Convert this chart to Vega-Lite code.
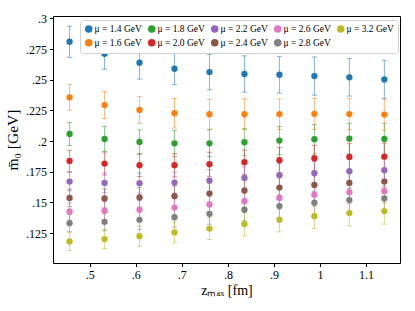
{
  "$schema": "https://vega.github.io/schema/vega-lite/v6.json",
  "width": 347,
  "height": 247,
  "autosize": {"type": "none"},
  "padding": {"left": 53, "top": 16, "right": 15, "bottom": 48},
  "background": "white",
  "config": {
    "view": {"stroke": "black", "strokeWidth": 1},
    "font": "Liberation Serif",
    "axis": {"grid": false, "domain": false, "tickColor": "black", "tickSize": 3.5, "labelColor": "black", "labelFont": "Liberation Serif", "labelFontSize": 12, "titleFont": "Liberation Serif", "titleFontSize": 14, "titleFontWeight": "normal", "titleColor": "black", "labelPadding": 3, "labelOverlap": false, "labelBound": false, "labelFlush": false}
  },
  "data": {"values": [
    {"mu":"1.4","z":0.456,"m":0.281,"e":0.0127},{"mu":"1.4","z":0.532,"m":0.2712,"e":0.0126},{"mu":"1.4","z":0.608,"m":0.2639,"e":0.0133},{"mu":"1.4","z":0.684,"m":0.259,"e":0.013},{"mu":"1.4","z":0.76,"m":0.2563,"e":0.0144},{"mu":"1.4","z":0.836,"m":0.2547,"e":0.0148},{"mu":"1.4","z":0.912,"m":0.2541,"e":0.015},{"mu":"1.4","z":0.988,"m":0.253,"e":0.0156},{"mu":"1.4","z":1.064,"m":0.252,"e":0.0153},{"mu":"1.4","z":1.14,"m":0.2503,"e":0.0156},
    {"mu":"1.6","z":0.456,"m":0.2357,"e":0.0104},{"mu":"1.6","z":0.532,"m":0.2294,"e":0.011},{"mu":"1.6","z":0.608,"m":0.2254,"e":0.0108},{"mu":"1.6","z":0.684,"m":0.2227,"e":0.012},{"mu":"1.6","z":0.76,"m":0.2219,"e":0.0122},{"mu":"1.6","z":0.836,"m":0.2219,"e":0.0125},{"mu":"1.6","z":0.912,"m":0.222,"e":0.0125},{"mu":"1.6","z":0.988,"m":0.2222,"e":0.0126},{"mu":"1.6","z":1.064,"m":0.222,"e":0.0126},{"mu":"1.6","z":1.14,"m":0.2216,"e":0.0127},
    {"mu":"1.8","z":0.456,"m":0.2058,"e":0.0094},{"mu":"1.8","z":0.532,"m":0.2018,"e":0.0102},{"mu":"1.8","z":0.608,"m":0.1993,"e":0.0099},{"mu":"1.8","z":0.684,"m":0.1982,"e":0.0106},{"mu":"1.8","z":0.76,"m":0.1982,"e":0.011},{"mu":"1.8","z":0.836,"m":0.1991,"e":0.011},{"mu":"1.8","z":0.912,"m":0.2004,"e":0.0115},{"mu":"1.8","z":0.988,"m":0.2015,"e":0.012},{"mu":"1.8","z":1.064,"m":0.202,"e":0.0125},{"mu":"1.8","z":1.14,"m":0.2017,"e":0.0128},
    {"mu":"2.0","z":0.456,"m":0.1838,"e":0.0088},{"mu":"2.0","z":0.532,"m":0.1817,"e":0.0093},{"mu":"2.0","z":0.608,"m":0.1803,"e":0.0092},{"mu":"2.0","z":0.684,"m":0.1803,"e":0.0095},{"mu":"2.0","z":0.76,"m":0.1811,"e":0.0098},{"mu":"2.0","z":0.836,"m":0.1828,"e":0.01},{"mu":"2.0","z":0.912,"m":0.1844,"e":0.0103},{"mu":"2.0","z":0.988,"m":0.186,"e":0.0106},{"mu":"2.0","z":1.064,"m":0.1871,"e":0.0108},{"mu":"2.0","z":1.14,"m":0.1873,"e":0.011},
    {"mu":"2.2","z":0.456,"m":0.167,"e":0.0075},{"mu":"2.2","z":0.532,"m":0.1659,"e":0.008},{"mu":"2.2","z":0.608,"m":0.1657,"e":0.0082},{"mu":"2.2","z":0.684,"m":0.1662,"e":0.0085},{"mu":"2.2","z":0.76,"m":0.1678,"e":0.0088},{"mu":"2.2","z":0.836,"m":0.17,"e":0.009},{"mu":"2.2","z":0.912,"m":0.1722,"e":0.0093},{"mu":"2.2","z":0.988,"m":0.1738,"e":0.0095},{"mu":"2.2","z":1.064,"m":0.1755,"e":0.0097},{"mu":"2.2","z":1.14,"m":0.1763,"e":0.0098},
    {"mu":"2.4","z":0.456,"m":0.1537,"e":0.0072},{"mu":"2.4","z":0.532,"m":0.1532,"e":0.0077},{"mu":"2.4","z":0.608,"m":0.154,"e":0.008},{"mu":"2.4","z":0.684,"m":0.1551,"e":0.0083},{"mu":"2.4","z":0.76,"m":0.1572,"e":0.0086},{"mu":"2.4","z":0.836,"m":0.1597,"e":0.0089},{"mu":"2.4","z":0.912,"m":0.1621,"e":0.0092},{"mu":"2.4","z":0.988,"m":0.1643,"e":0.0094},{"mu":"2.4","z":1.064,"m":0.1659,"e":0.0096},{"mu":"2.4","z":1.14,"m":0.167,"e":0.0097},
    {"mu":"2.6","z":0.456,"m":0.1426,"e":0.007},{"mu":"2.6","z":0.532,"m":0.1431,"e":0.0075},{"mu":"2.6","z":0.608,"m":0.144,"e":0.0078},{"mu":"2.6","z":0.684,"m":0.1458,"e":0.0081},{"mu":"2.6","z":0.76,"m":0.1483,"e":0.0085},{"mu":"2.6","z":0.836,"m":0.151,"e":0.0088},{"mu":"2.6","z":0.912,"m":0.1537,"e":0.009},{"mu":"2.6","z":0.988,"m":0.1562,"e":0.0093},{"mu":"2.6","z":1.064,"m":0.1584,"e":0.0095},{"mu":"2.6","z":1.14,"m":0.1594,"e":0.0097},
    {"mu":"2.8","z":0.456,"m":0.1331,"e":0.007},{"mu":"2.8","z":0.532,"m":0.1342,"e":0.0074},{"mu":"2.8","z":0.608,"m":0.1358,"e":0.0077},{"mu":"2.8","z":0.684,"m":0.138,"e":0.0081},{"mu":"2.8","z":0.76,"m":0.1407,"e":0.0085},{"mu":"2.8","z":0.836,"m":0.144,"e":0.0088},{"mu":"2.8","z":0.912,"m":0.147,"e":0.0091},{"mu":"2.8","z":0.988,"m":0.1497,"e":0.0094},{"mu":"2.8","z":1.064,"m":0.1519,"e":0.0097},{"mu":"2.8","z":1.14,"m":0.1532,"e":0.0099},
    {"mu":"3.2","z":0.456,"m":0.1182,"e":0.0074},{"mu":"3.2","z":0.532,"m":0.1201,"e":0.0078},{"mu":"3.2","z":0.608,"m":0.1225,"e":0.0082},{"mu":"3.2","z":0.684,"m":0.1255,"e":0.0086},{"mu":"3.2","z":0.76,"m":0.1287,"e":0.009},{"mu":"3.2","z":0.836,"m":0.1323,"e":0.0095},{"mu":"3.2","z":0.912,"m":0.1358,"e":0.0098},{"mu":"3.2","z":0.988,"m":0.1388,"e":0.0101},{"mu":"3.2","z":1.064,"m":0.1413,"e":0.0104},{"mu":"3.2","z":1.14,"m":0.1429,"e":0.0106}
  ]},
  "encoding": {
    "x": {"field": "z", "type": "quantitative", "scale": {"domain": [0.42, 1.174], "nice": false, "zero": false},
      "axis": {"values": [0.5, 0.6, 0.7, 0.8, 0.9, 1.0, 1.1], "labelOverlap": false, "labelExpr": "replace(format(datum.value, '.1~f'), '0.', '.')", "title": "zₘₐₓ [fm]", "titlePadding": 3}},
    "y": {"field": "m", "type": "quantitative", "scale": {"domain": [0.1006, 0.302], "nice": false, "zero": false},
      "axis": {"values": [0.125, 0.15, 0.175, 0.2, 0.225, 0.25, 0.275, 0.3], "labelOverlap": false, "labelExpr": "replace(format(datum.value, '.3~f'), '0.', '.')", "title": "m̄₀ [GeV]", "titleFontSize": 15.5, "titlePadding": 5}},
    "color": {"field": "mu", "type": "nominal",
      "scale": {"domain": ["1.4", "1.8", "2.2", "2.6", "3.2", "1.6", "2.0", "2.4", "2.8"],
        "range": ["#1f77b4", "#2ca02c", "#9467bd", "#e377c2", "#bcbd22", "#ff7f0e", "#d62728", "#8c564b", "#7f7f7f"]},
      "legend": {"orient": "none", "legendX": 27, "legendY": 4, "columns": 5, "title": null, "direction": "horizontal",
        "labelExpr": "'μ = ' + datum.label + ' GeV'", "labelFont": "Liberation Serif", "labelFontSize": 9.5, "labelColor": "black",
        "symbolType": "circle", "symbolSize": 36, "symbolOpacity": 1, "labelOffset": 1, "columnPadding": 3, "rowPadding": 1,
        "fillColor": "white", "strokeColor": "#d0d0d0", "cornerRadius": 3, "padding": 4}}
  },
  "layer": [
    {
      "mark": {"type": "errorbar", "ticks": {"size": 5}, "thickness": 1, "opacity": 0.55},
      "encoding": {
        "yError": {"field": "e"}
      }
    },
    {
      "mark": {"type": "point", "filled": true, "size": 40, "opacity": 1, "shape": "circle"}
    }
  ]
}
